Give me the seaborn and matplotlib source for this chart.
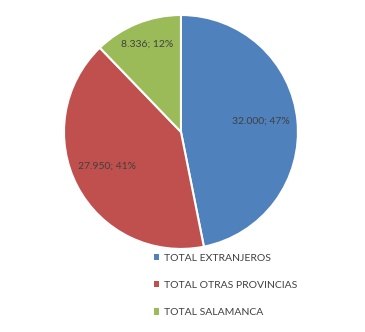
import matplotlib
matplotlib.use("Agg")
import matplotlib.pyplot as plt
import seaborn as sns
import numpy as np
from matplotlib.patches import Patch

categories = ["TOTAL EXTRANJEROS", "TOTAL OTRAS PROVINCIAS", "TOTAL SALAMANCA"]
values = [32000, 27950, 8336]
colors = ["#4F81BD", "#C0504D", "#9BBB59"]
label_dist = [0.69, 0.70, 0.80]
label_shift = [2, -3, -1]  # degrees of angular offset for label placement

sns.set_theme(style="white")
plt.rcParams['font.family'] = ['Lato', 'DejaVu Sans']
text_color = "#404040"

fig = plt.figure(figsize=(3.65, 3.32), dpi=100)
ax = fig.add_axes([0.1753, 0.25, 0.641, 0.705])
palette = sns.color_palette(colors)
wedges, _ = ax.pie(values, colors=palette, startangle=90, counterclock=False,
                   wedgeprops=dict(edgecolor="white", linewidth=1.5))
ax.set_aspect("equal")
ax.set_xlim(-1, 1)
ax.set_ylim(-1, 1)

total = sum(values)
for w, v, d, s in zip(wedges, values, label_dist, label_shift):
    ang = np.deg2rad((w.theta1 + w.theta2) / 2 + s)
    lab = f"{v:,}".replace(",", ".") + f"; {round(100 * v / total)}%"
    ax.text(d * np.cos(ang), d * np.sin(ang), lab, ha="center", va="center",
            fontsize=7.5, color=text_color)

handles = [Patch(facecolor=c, edgecolor="none") for c in colors]
fig.legend(handles, categories, loc="upper left", bbox_to_anchor=(0.421, 0.236),
           frameon=False, fontsize=7.5, handlelength=0.55, handleheight=0.55,
           handletextpad=0.4, labelspacing=1.75, borderpad=0, borderaxespad=0,
           labelcolor=text_color)

fig.savefig("out.png", dpi=100)
